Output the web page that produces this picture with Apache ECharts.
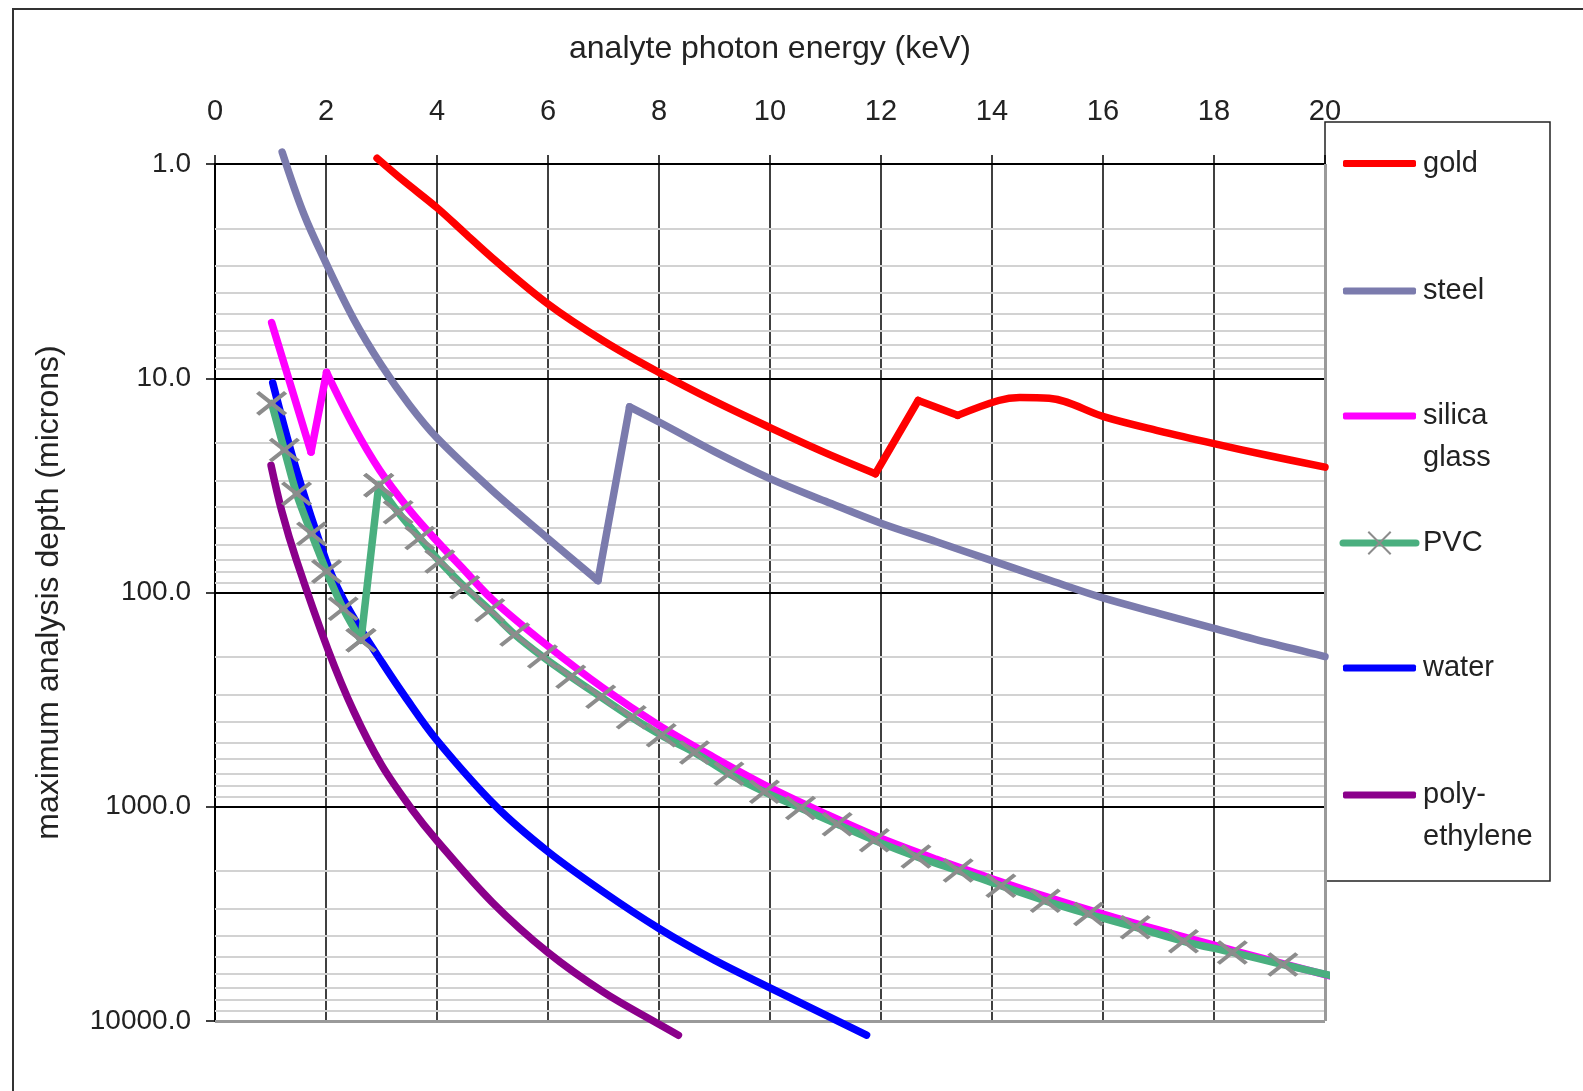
<!DOCTYPE html>
<html>
<head>
<meta charset="utf-8">
<title>analysis depth</title>
<script src="https://cdn.jsdelivr.net/npm/echarts@6/dist/echarts.min.js"></script>
<style>
  html, body { margin: 0; padding: 0; background: #fff; }
  #chart { width: 1583px; height: 1091px; }
</style>
</head>
<body>
<div id="chart"></div>
<script>
// photon energy (keV) vs max analysis depth (microns)
var goldKeV   = [2.92, 3.4, 4.0, 4.5, 5, 6, 7, 8, 9, 10, 11, 11.9, 12.67, 13.38, 14.12, 14.5, 15.03, 16.04, 17, 18, 19, 20];
var goldDepth = [0.94, 1.2, 1.6, 2.1, 2.75, 4.5, 6.7, 9.4, 12.8, 17.0, 22.3, 27.9, 12.7, 14.9, 12.7, 12.3, 12.4, 15.2, 17.6, 20.2, 23, 26.0];

var steelKeV   = [1.21, 1.6, 2, 2.5, 3.0, 3.5, 4, 5, 6, 6.9, 7.47, 8, 9, 10, 11, 12, 13, 14, 15, 16, 17, 18, 19, 20];
var steelDepth = [0.88, 1.71, 2.9, 5.3, 8.7, 13.3, 19, 33.5, 56, 88, 13.6, 16.0, 22, 29.4, 37.5, 47.5, 58, 71, 87, 106, 125, 147, 172, 199];

var silicaKeV   = [1.02, 1.73, 2.01, 2.5, 2.97, 3.5, 3.93, 4.5, 5, 6, 7, 8, 9, 10, 11, 12, 13, 14, 15, 16, 17, 18, 19, 20, 20.27];
var silicaDepth = [5.5, 22.1, 9.4, 16.8, 26.9, 41, 55, 79, 108, 178, 280, 417, 590, 815, 1080, 1404, 1760, 2167, 2640, 3170, 3760, 4430, 5200, 6070, 6350];

var pvcKeV   = [1.02, 1.25, 1.47, 1.74, 2.01, 2.31, 2.63, 2.95, 3.30, 3.69, 4.05, 4.50, 4.95, 5.40, 5.90, 6.41, 6.95, 7.50, 8.04, 8.64, 9.26, 9.90, 10.55, 11.21, 11.88, 12.63, 13.39, 14.16, 14.96, 15.74, 16.58, 17.45, 18.33, 19.24, 20.27];
var pvcDepth = [13.1, 21.6, 34.6, 53.2, 79.7, 119, 167, 31.6, 42.2, 55.7, 71.6, 94.4, 121, 157, 199, 247, 307, 382, 464, 558, 701, 852, 1014, 1206, 1435, 1707, 1986, 2337, 2749, 3167, 3648, 4245, 4784, 5448, 6270];

var waterKeV   = [1.04, 1.47, 2.01, 2.25, 2.55, 3.0, 3.42, 4, 5.07, 6, 7, 8, 9, 10, 11.74];
var waterDepth = [10.5, 27, 72, 100, 138, 210, 305, 490, 1000, 1620, 2500, 3700, 5200, 7000, 11650];

var polyKeV   = [1.01, 1.2, 1.47, 2.04, 2.5, 3, 3.55, 4, 5, 6, 7, 8, 8.35];
var polyDepth = [25.5, 41.4, 71, 186, 359, 638, 1030, 1440, 2800, 4790, 7330, 10350, 11650];

// indices of the sharp absorption-edge corners in each curve
var goldEdges = [11, 12, 13];
var steelEdges = [9, 10];
var silicaEdges = [1, 2];
var pvcEdges = [6, 7];

var xTicks = [0, 2, 4, 6, 8, 10, 12, 14, 16, 18, 20];
var decades = [1, 10, 100, 1000, 10000];

// light grey lines at 2..9 inside each decade
var minorLines = [];
decades.slice(0, -1).forEach(function (d) {
  for (var k = 2; k <= 9; k++) minorLines.push(d * k);
});

function pairs(xs, ys) {
  return xs.map(function (x, i) { return [x, ys[i]]; });
}

// cut a curve at its corner points so the smoothing keeps them sharp
function pieces(xs, ys, edges) {
  var pts = pairs(xs, ys);
  var cuts = [0].concat(edges || [], [pts.length - 1]);
  var out = [];
  for (var i = 0; i < cuts.length - 1; i++) {
    out.push(pts.slice(cuts[i], cuts[i + 1] + 1));
  }
  return out;
}

var FONT = 'Liberation Sans, Arial, sans-serif';
var crossPath = 'path://M0,0L28,22M0,22L28,0';

var chart = echarts.init(document.getElementById('chart'));

function curve(name, color, xs, ys, edges, z) {
  return pieces(xs, ys, edges).map(function (seg) {
    return {
      name: name,
      type: 'line',
      data: seg,
      symbol: 'none',
      smooth: 0.35,
      clip: false,
      z: z || 3,
      lineStyle: { color: color, width: 7.5, cap: 'round', join: 'round' },
      itemStyle: { color: color },
      animation: false
    };
  });
}

var pvcSeries = pieces(pvcKeV, pvcDepth, pvcEdges).map(function (seg, si, all) {
  var data = seg.slice();
  if (si === all.length - 1) {
    // the last point has no marker
    data[data.length - 1] = { value: data[data.length - 1], symbol: 'none' };
  }
  return {
    name: 'PVC',
    type: 'line',
    data: data,
    clip: false,
    z: 4,
    smooth: 0.35,
    symbol: crossPath,
    symbolSize: [28, 22],
    showAllSymbol: true,
    lineStyle: { color: '#4aaf7f', width: 7.5, cap: 'round', join: 'round' },
    itemStyle: { color: '#8c8c8c', borderColor: '#8c8c8c', borderWidth: 4 },
    animation: false
  };
});

var legendCenters = [163.5, 291, 416, 543, 668, 795];
var legendNames = ['gold', 'steel', 'silica glass', 'PVC', 'water', 'polyethylene'];
var legendColors = ['#ff0000', '#7b7bad', '#ff00ff', null, '#0000ff', '#8b008b'];
var legendText = {
  'gold': 'gold', 'steel': 'steel', 'silica glass': '\nsilica\nglass',
  'PVC': 'PVC', 'water': 'water', 'polyethylene': '\npoly-\nethylene'
};
var LH = 42;

var legends = legendNames.map(function (n, i) {
  var multi = legendText[n].indexOf('\n') === 0;
  var lg = {
    data: [n],
    left: 1343,
    top: legendCenters[i] - (multi ? LH * 1.5 : LH / 2),
    padding: 0,
    itemWidth: 73,
    itemHeight: 7,
    itemGap: 0,
    selectedMode: false,
    formatter: function (name) { return legendText[name]; },
    textStyle: { fontFamily: FONT, fontSize: 29, color: '#222', lineHeight: LH, padding: [0, 0, 0, 2] }
  };
  if (legendColors[i]) {
    lg.icon = 'roundRect';
  } else {
    lg.left = 1339.5;
    lg.itemHeight = 28;
    lg.lineStyle = { width: 7 };
  }
  return lg;
});

var option = {
  backgroundColor: '#fff',
  animation: false,
  grid: { left: 215, right: 258, top: 164, bottom: 70 },
  legend: legends,
  xAxis: {
    type: 'value',
    position: 'top',
    min: 0,
    max: 20,
    interval: 2,
    name: 'analyte photon energy (keV)',
    nameLocation: 'middle',
    nameGap: 99,
    nameTextStyle: { fontFamily: FONT, fontSize: 32, color: '#222' },
    axisLine: { show: true, lineStyle: { color: '#000', width: 2 } },
    axisTick: { show: true, length: 9, lineStyle: { color: '#000', width: 1.5 } },
    axisLabel: {
      fontFamily: FONT, fontSize: 29, color: '#222', margin: 38,
      formatter: function (v) { return xTicks.indexOf(v) >= 0 ? String(v) : ''; }
    },
    splitLine: { show: true, showMaxLine: false, lineStyle: { color: '#000', width: 1.5 } }
  },
  yAxis: {
    type: 'log',
    logBase: 10,
    min: 1,
    max: 10000,
    inverse: true,
    name: 'maximum analysis depth (microns)',
    nameLocation: 'middle',
    nameGap: 150,
    nameTextStyle: { fontFamily: FONT, fontSize: 32, color: '#222' },
    axisLine: { show: true, lineStyle: { color: '#000', width: 2 } },
    axisTick: { show: true, length: 9, lineStyle: { color: '#000', width: 1.5 } },
    axisLabel: {
      fontFamily: FONT, fontSize: 28, color: '#222', margin: 24,
      formatter: function (v) { return Number(v).toFixed(1); }
    },
    splitLine: { show: true, showMaxLine: false, lineStyle: { color: '#000', width: 2 } }
  },
  graphic: [
    {
      type: 'rect', silent: true, z: -1,
      shape: { x: 13, y: 9, width: 1600, height: 1100 },
      style: { fill: 'none', stroke: '#333', lineWidth: 2 }
    },
    {
      type: 'rect', silent: true, z: 0,
      shape: { x: 1325, y: 122, width: 225, height: 759 },
      style: { fill: '#fff', stroke: '#222', lineWidth: 1.5 }
    }
  ],
  series: [
    {
      name: 'grid',
      type: 'line',
      data: [],
      z: 1,
      silent: true,
      markLine: {
        z: 1,
        silent: true,
        symbol: ['none', 'none'],
        label: { show: false },
        animation: false,
        lineStyle: { color: '#d2d2d2', width: 2, type: 'solid' },
        data: minorLines.map(function (v) { return { yAxis: v }; }).concat([
          { xAxis: 20, lineStyle: { color: '#9a9a9a', width: 3, type: 'solid' } },
          { yAxis: 10000, lineStyle: { color: '#9a9a9a', width: 3, type: 'solid' } }
        ])
      }
    }
  ]
    .concat(curve('gold', '#ff0000', goldKeV, goldDepth, goldEdges))
    .concat(curve('steel', '#7b7bad', steelKeV, steelDepth, steelEdges))
    .concat(curve('silica glass', '#ff00ff', silicaKeV, silicaDepth, silicaEdges))
    .concat(curve('water', '#0000ff', waterKeV, waterDepth))
    .concat(curve('polyethylene', '#8b008b', polyKeV, polyDepth))
    .concat(pvcSeries)
};

chart.setOption(option);
</script>
</body>
</html>
